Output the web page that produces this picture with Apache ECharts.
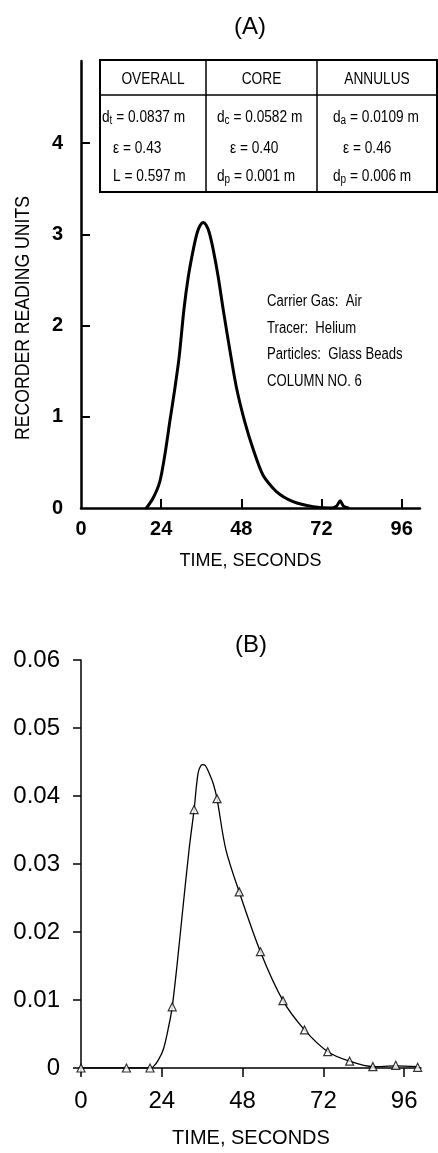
<!DOCTYPE html>
<html>
<head>
<meta charset="utf-8">
<script src="https://cdn.jsdelivr.net/npm/echarts@6/dist/echarts.min.js"></script>
<style>html,body{margin:0;padding:0;background:#fff}#c{width:438px;height:1153px}</style>
</head>
<body>
<div id="c"></div>
<script>
// ---------- DATA ----------
// Panel A: recorder trace (time s, reading units)
const curveA_t = [19.6, 21.6, 23.6, 25.1, 26.6, 28.1, 29.4, 30.8, 32.1, 33.6, 34.8, 35.7, 36.6, 37.5, 38.4, 39.6, 41.1, 42.6, 44.8, 46.6, 49.0, 51.5, 54.5, 58.5, 63.5, 69.5, 75.0, 76.5, 77.6, 78.6, 80.0];
const curveA_v = [0, 0.11, 0.29, 0.58, 0.95, 1.31, 1.66, 2.17, 2.53, 2.83, 3.02, 3.10, 3.13, 3.10, 3.02, 2.83, 2.53, 2.17, 1.68, 1.31, 0.95, 0.65, 0.36, 0.18, 0.07, 0.015, 0, 0.02, 0.08, 0.02, 0];
// Panel B: fitted curve
const curveB_t = [0, 13.5, 20.5, 21.5, 23.0, 24.5, 26.0, 27.1, 28.5, 30.0, 32.1, 33.6, 34.8, 36.0, 36.9, 38.2, 39.3, 40.4, 43.0, 47.0, 53.3, 60.0, 66.4, 73.3, 79.8, 86.7, 93.5, 100];
const curveB_v = [0, 0, 0, 0.0002, 0.0012, 0.0028, 0.006, 0.009, 0.015, 0.0222, 0.0321, 0.038, 0.0434, 0.0446, 0.0445, 0.0432, 0.0418, 0.0396, 0.0322, 0.0259, 0.0171, 0.0099, 0.0056, 0.0024, 0.0010, 0.0002, 0.0003, 0.0002];
// Panel B: measured points (triangles)
const pointsB_t = [0, 13.5, 20.5, 27.1, 33.6, 40.4, 47.0, 53.3, 60.0, 66.4, 73.3, 79.8, 86.7, 93.5, 100];
const pointsB_v = [0, 0, 0, 0.009, 0.038, 0.0396, 0.0259, 0.0171, 0.0099, 0.0056, 0.0024, 0.0010, 0.0002, 0.0004, 0.0001];
// Tick values
const xTicks = [0, 24, 48, 72, 96];
const yTicksA = [0, 1, 2, 3, 4];
const yTicksB = [0, 0.01, 0.02, 0.03, 0.04, 0.05, 0.06];
// Text
const tableHeaders = ['OVERALL', 'CORE', 'ANNULUS'];
const tableRow1 = [['d', 't', ' = 0.0837 m'], ['d', 'c', ' = 0.0582 m'], ['d', 'a', ' = 0.0109 m']];
const tableRow2 = ['ε = 0.43', 'ε = 0.40', 'ε = 0.46'];
const tableRow3 = [['L = 0.597 m', '', ''], ['d', 'p', ' = 0.001 m'], ['d', 'p', ' = 0.006 m']];
const notesA = ['Carrier Gas:  Air', 'Tracer:  Helium', 'Particles:  Glass Beads', 'COLUMN NO. 6'];

// ---------- STYLE ----------
const SANS = "'Liberation Sans', Arial, sans-serif";
const BLK = '#000';
const NX = 0.83; // horizontal condensing for narrow-looking text

function pairs(t, v) { return t.map((x, i) => [x, v[i]]); }

const graphic = [];
function txt(x, y, text, o, sx) {
  graphic.push({
    type: 'text', x: x, y: y, scaleX: sx == null ? NX : sx,
    style: Object.assign({ text: text, fill: BLK, font: '16.5px ' + SANS, align: 'left', verticalAlign: 'middle' }, o || {})
  });
}
// titles
txt(250, 27, '(A)', { font: '24px ' + SANS, align: 'center' }, 1);
txt(251, 645, '(B)', { font: '24px ' + SANS, align: 'center' }, 1);
// y name panel A
graphic.push({ type: 'text', x: 23, y: 318, rotation: Math.PI / 2, scaleX: 0.84,
  style: { text: 'RECORDER READING UNITS', fill: BLK, font: '21px ' + SANS, align: 'center', verticalAlign: 'middle' } });
// table
const tL = 100, tR = 437, tT = 60, tH = 95, tB = 192, c1 = 206, c2 = 317;
graphic.push({ type: 'rect', shape: { x: tL, y: tT, width: tR - tL, height: tB - tT }, style: { fill: 'none', stroke: BLK, lineWidth: 2 } });
graphic.push({ type: 'line', shape: { x1: tL, y1: tH, x2: tR, y2: tH }, style: { stroke: BLK, lineWidth: 1.5 } });
graphic.push({ type: 'line', shape: { x1: c1, y1: tT, x2: c1, y2: tB }, style: { stroke: BLK, lineWidth: 1.5 } });
graphic.push({ type: 'line', shape: { x1: c2, y1: tT, x2: c2, y2: tB }, style: { stroke: BLK, lineWidth: 1.5 } });
const colCenters = [(tL + c1) / 2, (c1 + c2) / 2, (c2 + tR) / 2];
tableHeaders.forEach((h, i) => txt(colCenters[i], 79, h, { align: 'center' }));
const rich = { m: { font: '16.5px ' + SANS, fill: BLK }, s: { font: '12px ' + SANS, fill: BLK, verticalAlign: 'bottom', padding: [7, 0, 0, 0] } };
function richTxt(x, y, parts) {
  const s = parts[1] ? '{m|' + parts[0] + '}{s|' + parts[1] + '}{m|' + parts[2] + '}' : '{m|' + parts[0] + '}';
  graphic.push({ type: 'text', x: x, y: y, scaleX: NX, style: { text: s, rich: rich, align: 'left', verticalAlign: 'middle' } });
}
const rowX1 = [102, 217, 333];
tableRow1.forEach((p, i) => richTxt(rowX1[i], 117, p));
const rowX2 = [113, 230, 343];
tableRow2.forEach((p, i) => txt(rowX2[i], 148, p));
const rowX3 = [113, 217, 333];
tableRow3.forEach((p, i) => richTxt(rowX3[i], 176, p));
// notes
notesA.forEach((n, i) => txt(267, 302 + i * 26.5, n, { font: '16px ' + SANS }, 0.82));

const option = {
  animation: false,
  backgroundColor: '#fff',
  grid: [
    { left: 81, top: 61, width: 339, height: 447 },
    { left: 81, top: 660, width: 340, height: 408 }
  ],
  xAxis: [
    { gridIndex: 0, type: 'value', min: 0, max: 101.5,
      axisLine: { lineStyle: { color: BLK, width: 2.5 } },
      axisTick: { inside: true, length: 9, customValues: [24, 48, 72, 96], lineStyle: { color: BLK, width: 2 } },
      axisLabel: { customValues: xTicks, margin: 11, color: BLK, fontSize: 20, fontWeight: 'bold', fontFamily: SANS },
      splitLine: { show: false },
      name: 'TIME, SECONDS', nameLocation: 'middle', nameGap: 44,
      nameTextStyle: { color: BLK, fontSize: 18, fontFamily: SANS } },
    { gridIndex: 1, type: 'value', min: 0, max: 101,
      axisLine: { lineStyle: { color: BLK, width: 1.5 } },
      axisTick: { inside: false, length: 9, customValues: xTicks, lineStyle: { color: BLK, width: 1.5 } },
      axisLabel: { customValues: xTicks, margin: 21, color: BLK, fontSize: 24, fontFamily: SANS },
      splitLine: { show: false },
      name: 'TIME, SECONDS', nameLocation: 'middle', nameGap: 60,
      nameTextStyle: { color: BLK, fontSize: 20, fontFamily: SANS } },
    { gridIndex: 1, type: 'value', min: 0, max: 101,
      axisLine: { show: false },
      axisTick: { inside: true, length: 9, customValues: [24, 48, 72, 96], lineStyle: { color: BLK, width: 1.5 } },
      axisLabel: { show: false }, splitLine: { show: false } }
  ],
  yAxis: [
    { gridIndex: 0, type: 'value', min: 0, max: 4.9,
      axisLine: { show: true, lineStyle: { color: BLK, width: 2.5 } },
      axisTick: { show: true, inside: true, length: 9, customValues: [1, 2, 3, 4], lineStyle: { color: BLK, width: 2 } },
      axisLabel: { customValues: yTicksA, margin: 18, color: BLK, fontSize: 20, fontWeight: 'bold', fontFamily: SANS },
      splitLine: { show: false } },
    { gridIndex: 1, type: 'value', min: 0, max: 0.06,
      axisLine: { show: true, lineStyle: { color: BLK, width: 1.5 } },
      axisTick: { show: true, inside: false, length: 8, customValues: yTicksB, lineStyle: { color: BLK, width: 1.5 } },
      axisLabel: { customValues: yTicksB, margin: 21, color: BLK, fontSize: 24, fontFamily: SANS,
        formatter: v => (v === 0 ? '0' : v.toFixed(2)) },
      splitLine: { show: false } },
    { gridIndex: 1, type: 'value', min: 0, max: 0.06,
      axisLine: { show: false },
      axisTick: { show: true, inside: true, length: 8, customValues: yTicksB.slice(1), lineStyle: { color: BLK, width: 1.5 } },
      axisLabel: { show: false }, splitLine: { show: false } }
  ],
  series: [
    { type: 'line', xAxisIndex: 0, yAxisIndex: 0, data: pairs(curveA_t, curveA_v), smooth: 0.25,
      showSymbol: false, lineStyle: { color: BLK, width: 3, join: 'round', cap: 'round' }, z: 3 },
    { type: 'line', xAxisIndex: 1, yAxisIndex: 1, data: pairs(curveB_t, curveB_v), smooth: 0.3,
      showSymbol: false, lineStyle: { color: BLK, width: 1.3 }, z: 3 },
    { type: 'scatter', xAxisIndex: 1, yAxisIndex: 1, data: pairs(pointsB_t, pointsB_v),
      symbol: 'triangle', symbolSize: 8, itemStyle: { color: '#fff', borderColor: BLK, borderWidth: 1.2 }, z: 4 }
  ],
  graphic: graphic
};
const chart = echarts.init(document.getElementById('c'), null, { renderer: 'canvas' });
chart.setOption(option);
</script>
</body>
</html>
